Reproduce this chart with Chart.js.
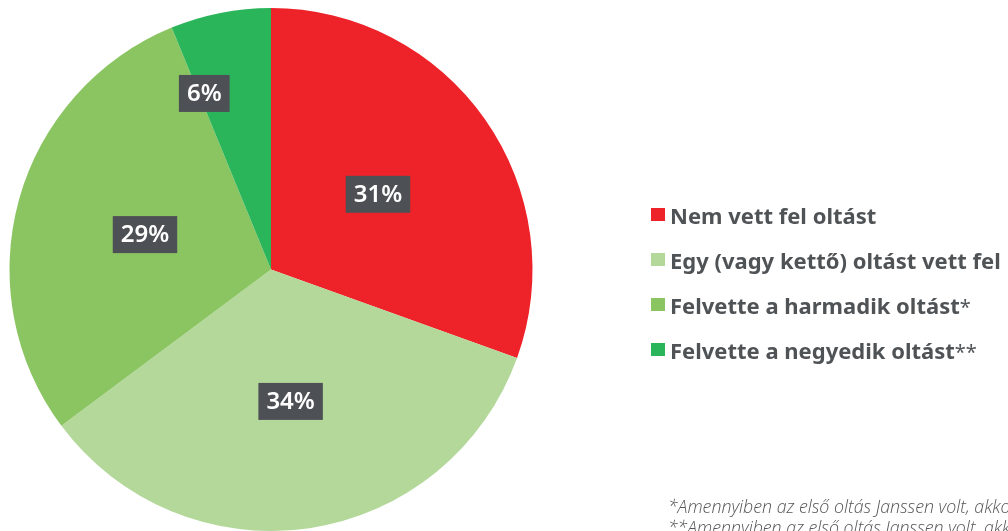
<!DOCTYPE html>
<html>
<head>
<meta charset="utf-8">
<script src="https://cdn.jsdelivr.net/npm/chart.js@4.4.1/dist/chart.umd.min.js"></script>
<style>
  html, body { margin: 0; padding: 0; background: #fff; }
  #wrap { position: relative; width: 1008px; height: 531px; overflow: hidden; }
  #chart { position: absolute; left: 0; top: 0; }
  #legend { position: absolute; left: 651px; top: 192px; font-family: "Noto Sans", sans-serif;
            font-weight: 700; font-size: 22px; color: #505356; white-space: nowrap; }
  .leg-item { display: flex; align-items: center; height: 45px; }
  .leg-box { width: 14px; height: 13px; margin-right: 5px; }
  .leg-item .mark { font-weight: 400; font-size: 20px; }
  #notes { position: absolute; left: 668px; top: 496px; font-family: "Open Sans", sans-serif;
           font-style: italic; font-weight: 300; font-size: 17.8px; color: #555; white-space: nowrap; line-height: 21px; }
</style>
</head>
<body>
<div id="wrap">
  <canvas id="chart" width="1008" height="531"></canvas>
  <div id="legend"></div>
  <div id="notes">
    <div>*Amennyiben az első oltás Janssen volt, akkor a második oltást</div>
    <div>**Amennyiben az első oltás Janssen volt, akkor a harmadik oltást</div>
  </div>
</div>
<script>
// ── Data ──────────────────────────────────────────────────────────────────────
const labels = ["Nem vett fel oltást", "Egy (vagy kettő) oltást vett fel", "Felvette a harmadik oltást", "Felvette a negyedik oltást"];
const marks  = ["", "", "*", "**"];
const values = [30.5, 34.3, 29.0, 6.2];
const pctLabels = ["31%", "34%", "29%", "6%"];
const colors = ["#ee2229", "#b3d89a", "#8bc562", "#2bb55b"];

// label placement inside each slice (fraction of radius, fraction of slice angle)
const labelRadius = [0.5, 0.51, 0.5, 0.72];
const labelAngle  = [0.5, 0.5, 0.5, 0.07];

// ── Value label boxes ─────────────────────────────────────────────────────────
const boxLabels = {
  id: "boxLabels",
  afterDatasetsDraw(chart) {
    const ctx = chart.ctx;
    const meta = chart.getDatasetMeta(0);
    ctx.save();
    ctx.font = "600 24px 'Noto Sans', sans-serif";
    ctx.textAlign = "center";
    ctx.textBaseline = "middle";
    meta.data.forEach((arc, i) => {
      const a = arc.startAngle + (arc.endAngle - arc.startAngle) * labelAngle[i];
      const r = arc.outerRadius * labelRadius[i];
      const x = arc.x + Math.cos(a) * r;
      const y = arc.y + Math.sin(a) * r;
      const text = pctLabels[i];
      const w = ctx.measureText(text).width + 16;
      const h = 37;
      ctx.fillStyle = "#4d5155";
      ctx.fillRect(x - w / 2, y - h / 2, w, h);
      ctx.fillStyle = "#ffffff";
      ctx.fillText(text, x, y + 1);
    });
    ctx.restore();
  }
};

new Chart(document.getElementById("chart"), {
  type: "pie",
  data: { labels, datasets: [{ data: values, backgroundColor: colors, borderWidth: 0 }] },
  options: {
    responsive: false,
    animation: false,
    layout: { padding: { left: 9, right: 475, top: 8, bottom: 0 } },
    plugins: { legend: { display: false }, tooltip: { enabled: false } },
  },
  plugins: [boxLabels],
});

// ── Legend ────────────────────────────────────────────────────────────────────
document.getElementById("legend").innerHTML = labels.map((l, i) => `
  <div class="leg-item">
    <div class="leg-box" style="background:${colors[i]}"></div>
    <span>${l}${marks[i] ? `<span class="mark">${marks[i]}</span>` : ""}</span>
  </div>`).join("");
</script>
</body>
</html>
